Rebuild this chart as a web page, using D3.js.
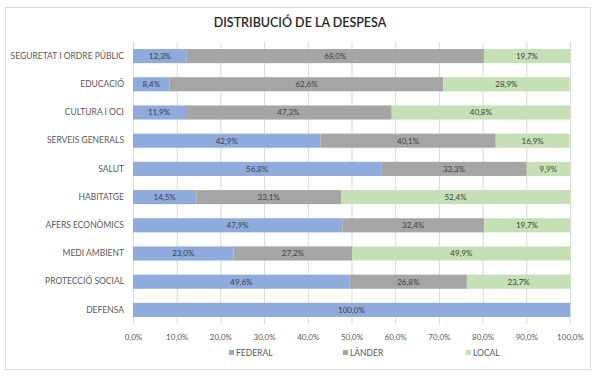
<!DOCTYPE html>
<html>
<head>
<meta charset="utf-8">
<script src="https://cdn.jsdelivr.net/npm/d3@7"></script>
<style>
  html, body { margin: 0; padding: 0; background: #fff; }
  svg { display: block; font-family: Lato, 'Open Sans', sans-serif; }
</style>
</head>
<body>
<svg width="600" height="378"></svg>
<script>
const categories = ['SEGURETAT I ORDRE PÚBLIC', 'EDUCACIÓ', 'CULTURA I OCI', 'SERVEIS GENERALS', 'SALUT',
  'HABITATGE', 'AFERS ECONÒMICS', 'MEDI AMBIENT', 'PROTECCIÓ SOCIAL', 'DEFENSA'];
const federal = [12.3, 8.4, 11.9, 42.9, 56.8, 14.5, 47.9, 23.0, 49.6, 100.0];
const lander  = [68.0, 62.6, 47.3, 40.1, 33.3, 33.1, 32.4, 27.2, 26.8, 0];
const local   = [19.7, 28.9, 40.8, 16.9, 9.9, 52.4, 19.7, 49.9, 23.7, 0];
const seriesNames = ['FEDERAL', 'LÄNDER', 'LOCAL'];
const xTicks = [0, 10, 20, 30, 40, 50, 60, 70, 80, 90, 100];

const colors = ['#8faadc', '#a5a5a5', '#c5e0b4'];
const fmt = v => v.toFixed(1).replace('.', ',') + '%';

const svg = d3.select('svg');

svg.append('rect')
  .attr('x', 5.5).attr('y', 7.5).attr('width', 585).attr('height', 362)
  .attr('fill', '#fff').attr('stroke', '#d9d9d9');

svg.append('text')
  .attr('x', 300).attr('y', 27)
  .attr('text-anchor', 'middle')
  .attr('font-size', 12.5).attr('font-weight', 600)
  .attr('fill', '#262626')
  .text('DISTRIBUCIÓ DE LA DESPESA');

const x = d3.scaleLinear().domain([0, 100]).range([133, 570]);
const y = d3.scaleBand().domain(categories).range([42, 324]).paddingInner(0.5).paddingOuter(0.25);

// gridlines
svg.append('g')
  .selectAll('line')
  .data(xTicks)
  .join('line')
  .attr('x1', d => x(d) + 0.5).attr('x2', d => x(d) + 0.5)
  .attr('y1', 42).attr('y2', 324)
  .attr('stroke', '#d9d9d9');

const rows = categories.map((c, i) => ({ cat: c, FEDERAL: federal[i], 'LÄNDER': lander[i], LOCAL: local[i] }));
const stacked = d3.stack().keys(seriesNames)(rows);

const layers = svg.append('g')
  .selectAll('g')
  .data(stacked)
  .join('g')
  .attr('fill', (d, i) => colors[i]);

layers.selectAll('rect')
  .data(d => d)
  .join('rect')
  .attr('x', d => x(d[0]))
  .attr('y', d => y(d.data.cat))
  .attr('width', d => x(d[1]) - x(d[0]))
  .attr('height', y.bandwidth());

layers.selectAll('text')
  .data(d => d.filter(p => p[1] - p[0] > 0))
  .join('text')
  .attr('x', d => (x(d[0]) + x(d[1])) / 2)
  .attr('y', d => y(d.data.cat) + y.bandwidth() / 2)
  .attr('dy', '0.35em')
  .attr('text-anchor', 'middle')
  .attr('font-size', 8)
  .attr('fill', '#404040')
  .text(d => fmt(d[1] - d[0]));

// category axis
const yAxis = svg.append('g')
  .attr('transform', `translate(${x(0)},0)`)
  .call(d3.axisLeft(y).tickSize(0).tickPadding(9));
yAxis.select('.domain').remove();
yAxis.selectAll('text')
  .attr('font-size', 8.5).attr('fill', '#595959')
  .attr('font-family', 'Lato, sans-serif');

// value axis
const xAxis = svg.append('g')
  .attr('transform', 'translate(0,324)')
  .call(d3.axisBottom(x).tickValues(xTicks).tickSize(0).tickPadding(10).tickFormat(fmt));
xAxis.select('.domain').remove();
xAxis.selectAll('text')
  .attr('font-size', 8).attr('fill', '#595959')
  .attr('font-family', 'Lato, sans-serif');

// legend
const legendX = [229, 343, 466];
const legend = svg.append('g')
  .selectAll('g')
  .data(seriesNames)
  .join('g')
  .attr('transform', (d, i) => `translate(${legendX[i]},353)`);
legend.append('rect')
  .attr('x', 0).attr('y', -3).attr('width', 5).attr('height', 5)
  .attr('fill', (d, i) => colors[i]);
legend.append('text')
  .attr('x', 7).attr('y', 0).attr('dy', '0.35em')
  .attr('font-size', 8.5).attr('fill', '#595959')
  .text(d => d);
</script>
</body>
</html>
